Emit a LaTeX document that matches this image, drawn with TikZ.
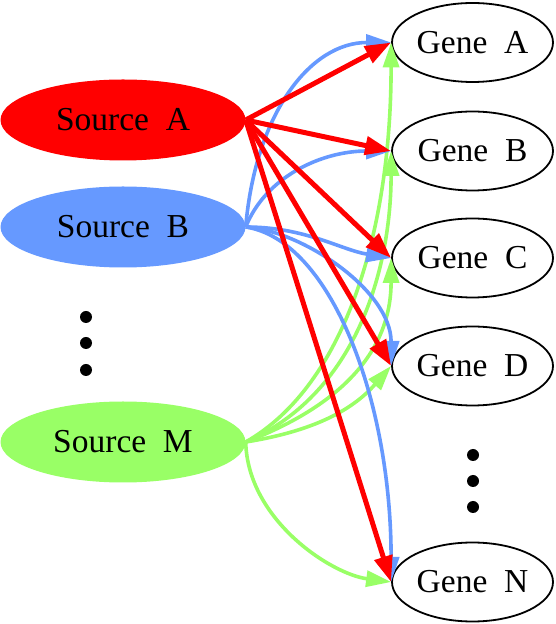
\documentclass[tikz,border=0pt]{standalone}
\usepackage{fontspec}
\setmainfont{Liberation Serif}
\usetikzlibrary{
	arrows.meta,
	shapes.geometric,
	positioning
}
\definecolor{SourceRed}{RGB}{255,0,0}
\definecolor{SourceBlue}{RGB}{102,153,255}
\definecolor{SourceGreen}{RGB}{153,255,102}

\begin{document}
\begin{tikzpicture}[x=1pt, y=1pt,
		source/.style={ellipse, inner sep=0pt, minimum width=245pt, minimum height=81pt, font=\fontsize{33.5}{36}\selectfont},
		gene/.style={ellipse, draw, line width=1.8pt, fill=white, inner sep=0pt, minimum width=161pt, minimum height=79pt, font=\fontsize{33.5}{36}\selectfont},
		vdot/.style={circle, fill=black, inner sep=0pt, minimum size=12pt},
		redlink/.style={SourceRed, line width=5pt, -{Triangle[length=26pt, width=18pt]}},
		bluelink/.style={SourceBlue, line width=3.6pt, -{Triangle[length=25pt, width=16pt]}},
		greenlink/.style={SourceGreen, line width=3.6pt, -{Triangle[length=25pt, width=16pt]}}]
			\useasboundingbox (0,0) rectangle (556,624);
			% sources
			\node[source, fill=SourceRed] (srcA) at (123,504) {Source~~A};
			\node[source, fill=SourceBlue] (srcB) at (123,397) {Source~~B};
			\node[source, fill=SourceGreen] (srcM) at (123,182) {Source~~M};
			\node[vdot] (ldot1) at (86,307) {};
			\node[vdot] (ldot2) at (86,281) {};
			\node[vdot] (ldot3) at (86,254) {};
			% genes
			\node[gene] (geneA) at (472.5,581.5) {Gene~~A};
			\node[gene] (geneB) at (472.5,473) {Gene~~B};
			\node[gene] (geneC) at (472.5,366) {Gene~~C};
			\node[gene] (geneD) at (472.5,258) {Gene~~D};
			\node[gene] (geneN) at (472.5,42) {Gene~~N};
			\node[vdot] (rdot1) at (473,169) {};
			\node[vdot] (rdot2) at (473,143) {};
			\node[vdot] (rdot3) at (473,117) {};
			% links of source M
			\draw[greenlink] (srcM.east) .. controls +(100,57) and +(0,-187) .. (geneA.west);
			\draw[greenlink] (srcM.east) .. controls +(115,50) and +(0,-110) .. (geneB.west);
			\draw[greenlink] (srcM.east) .. controls +(110,42) and +(0,-82) .. (geneC.west);
			\draw[greenlink] (srcM.east) .. controls +(75,12) and +(-35,-40) .. (geneD.west);
			\draw[greenlink] (srcM.east) .. controls +(2,-78) and +(-60,8) .. (geneN.west);
			% links of source B
			\draw[bluelink] (srcB.east) .. controls +(10,115) and +(-80,0) .. (geneA.west);
			\draw[bluelink] (srcB.east) .. controls +(20,50) and +(-70,0) .. (geneB.west);
			\draw[bluelink] (srcB.east) .. controls +(60,0) and +(-50,8) .. (geneC.west);
			\draw[bluelink] (srcB.east) .. controls +(55,-3) and +(0,76) .. (geneD.west);
			\draw[bluelink] (srcB.east) .. controls +(85,-13) and +(0,182) .. (geneN.west);
			% links of source A
			\draw[redlink] (srcA.east) -- (geneA.west);
			\draw[redlink] (srcA.east) -- (geneB.west);
			\draw[redlink] (srcA.east) -- (geneC.west);
			\draw[redlink] (srcA.east) -- (geneD.west);
			\draw[redlink] (srcA.east) -- (geneN.west);
		\end{tikzpicture}
\end{document}
